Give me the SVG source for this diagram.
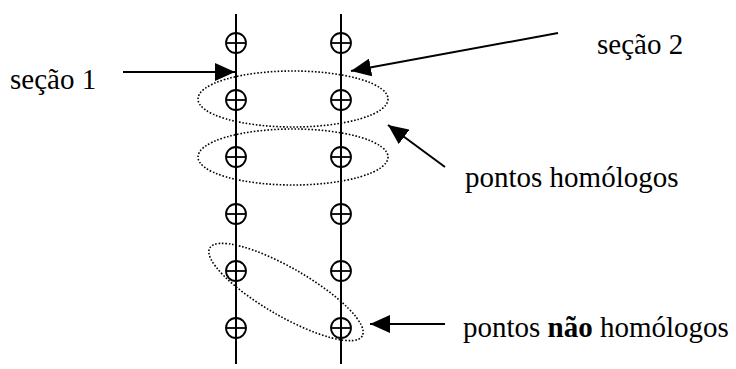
<svg xmlns="http://www.w3.org/2000/svg" width="736" height="369" viewBox="0 0 736 369">
<style>
.ln{stroke:#000;stroke-width:2;fill:none}
.pt{stroke:#000;stroke-width:1.8;fill:none}
.el{stroke:#000;stroke-width:1.6;fill:none;stroke-dasharray:1.6 1.8}
.ar{stroke:#000;stroke-width:2;fill:none;marker-end:url(#ah)}
.t{font-family:"Liberation Serif","Times New Roman",serif;font-size:29px;fill:#000}
</style>
<defs>
<marker id="ah" markerUnits="userSpaceOnUse" viewBox="0 0 20 18" refX="20" refY="9" markerWidth="20" markerHeight="18" orient="auto">
<path d="M0,0 L20,9 L0,18 z" fill="#000"/>
</marker>
<g id="p">
<circle cx="0" cy="0" r="10" class="pt"/>
<line x1="-10" y1="0" x2="10" y2="0" class="pt"/>
</g>
</defs>
<g id="secao1-line">
<line x1="236" y1="14" x2="236" y2="364" class="ln"/>
<use href="#p" x="236" y="43"/>
<use href="#p" x="236" y="100"/>
<use href="#p" x="236" y="157"/>
<use href="#p" x="236" y="214"/>
<use href="#p" x="236" y="271"/>
<use href="#p" x="236" y="328"/>
</g>
<g id="secao2-line">
<line x1="341" y1="14" x2="341" y2="364" class="ln"/>
<use href="#p" x="341" y="43"/>
<use href="#p" x="341" y="100"/>
<use href="#p" x="341" y="157"/>
<use href="#p" x="341" y="214"/>
<use href="#p" x="341" y="271"/>
<use href="#p" x="341" y="328"/>
</g>
<g id="ellipse-homologos-1"><ellipse cx="293" cy="99" rx="95" ry="28" class="el"/></g>
<g id="ellipse-homologos-2"><ellipse cx="293" cy="157" rx="95" ry="28" class="el"/></g>
<g id="ellipse-nao-homologos"><ellipse cx="0" cy="0" rx="88" ry="24" class="el" transform="translate(286,292) rotate(30)"/></g>
<g id="label-secao1"><text x="10" y="89" class="t">seção 1</text></g>
<g id="label-secao2"><text x="597" y="54" class="t">seção 2</text></g>
<g id="label-homologos"><text x="465" y="187" class="t">pontos homólogos</text></g>
<g id="label-nao-homologos"><text x="463" y="337" class="t">pontos <tspan font-weight="bold">não</tspan> homólogos</text></g>
<g id="connectors">
<line x1="123" y1="72" x2="235" y2="72" class="ar"/>
<line x1="558" y1="33" x2="351" y2="71" class="ar"/>
<line x1="445" y1="167" x2="388" y2="125" class="ar"/>
<line x1="445" y1="324" x2="370" y2="324" class="ar"/>
</g>
</svg>
